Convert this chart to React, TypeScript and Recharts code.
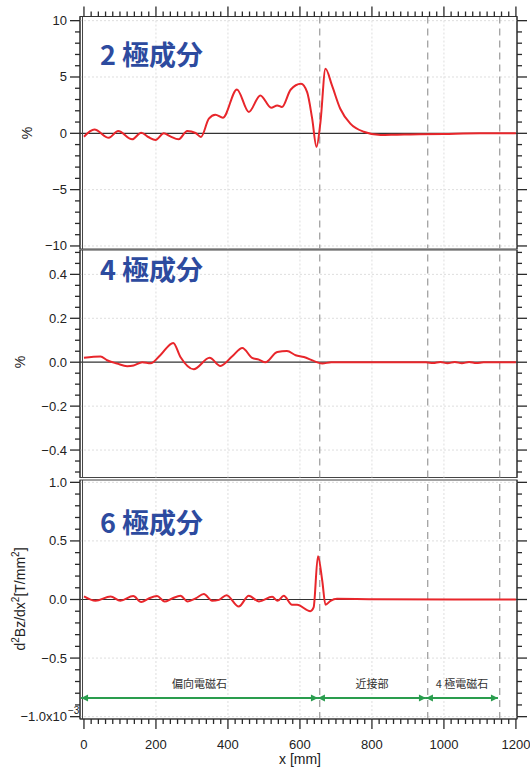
import React from 'react';
import { LineChart, Line, XAxis, YAxis, ReferenceLine, ReferenceArea } from 'recharts';

const FONT = "'Liberation Sans', Arial, sans-serif";
const CJK = "'Noto Sans CJK JP', sans-serif";

const X_DOMAIN: [number, number] = [-11, 1203];
const xMajor = [0, 200, 400, 600, 800, 1000, 1200];
const xLabels = ['0', '200', '400', '600', '800', '1000', '1200'];
const xGrid = [200, 400, 600, 800, 1000];
const boundaries = [655, 955, 1155];

// 2 極成分 [%]
const q2X = [0, 29, 69, 95, 134, 159, 180, 199, 222, 240, 263, 287, 310, 325, 347, 365, 386, 425, 458, 490, 520, 537, 550, 574, 603, 620, 634, 646, 657, 671, 689, 712, 740, 777, 824, 870, 907, 1000, 1100, 1200];
const q2Y = [-0.3, 0.33, -0.4, 0.2, -0.53, 0.06, -0.35, -0.59, 0.0, -0.27, -0.53, 0.2, 0.03, -0.33, 1.3, 1.65, 1.39, 3.9, 1.9, 3.36, 2.27, 2.48, 2.33, 3.87, 4.4, 3.65, 1.3, -1.2, 1.0, 5.73, 4.25, 2.18, 0.86, 0.14, -0.15, -0.12, -0.1, -0.05, 0, 0];

// 4 極成分 [%]
const q4X = [0, 46, 64, 92, 120, 138, 162, 185, 212, 248, 268, 305, 349, 379, 412, 440, 467, 486, 504, 537, 564, 588, 611, 638, 662, 687, 950, 970, 990, 1010, 1030, 1050, 1070, 1090, 1110, 1200];
const q4Y = [0.02, 0.026, 0.009, -0.006, -0.018, -0.015, 0, -0.005, 0.032, 0.088, 0.024, -0.032, 0.02, -0.017, 0.027, 0.065, 0.02, 0.012, 0, 0.047, 0.051, 0.032, 0.024, 0.006, -0.006, 0, 0, -0.004, 0.001, -0.005, 0.001, -0.005, 0.001, -0.004, 0, 0];

// 6 極成分 [x10^-3 T/mm^2]
const q6X = [0, 32, 74, 101, 137, 159, 180, 203, 224, 245, 268, 288, 310, 333, 356, 375, 396, 430, 458, 486, 523, 538, 555, 578, 592, 629, 638, 650, 662, 671, 685, 703, 800, 1200];
const q6Y = [0.026, -0.011, 0.026, -0.011, 0.029, -0.022, 0.009, 0.029, -0.017, 0.009, 0.032, -0.017, 0.009, 0.046, -0.011, -0.003, 0.037, -0.06, 0.032, -0.017, 0.023, -0.011, 0.032, -0.045, -0.045, -0.1, -0.068, 0.37, 0.16, -0.045, -0.011, 0.006, 0.003, 0];

// magnet sections
const secFrom = [-8, 650, 950];
const secTo = [650, 950, 1150];
const secLabels = ['偏向電磁石', '近接部', '4 極電磁石'];
const SEC_Y = -0.84;

const p1Major = [-10, -5, 0, 5, 10];
const p1Labels = ['−10', '−5', '0', '5', '10'];
const p2Major = [-0.4, -0.2, 0, 0.2, 0.4];
const p2Labels = ['−0.4', '−0.2', '0.0', '0.2', '0.4'];
const p3Major = [-1, -0.5, 0, 0.5, 1];
const p3Labels = ['−1.0x10', '−0.5', '0.0', '0.5', '1.0'];
const p3Exp = ['−3', '', '', '', ''];

const range = (a: number, b: number, step: number) => {
  const out: number[] = [];
  const n = Math.round((b - a) / step);
  for (let i = 0; i <= n; i++) out.push(+(a + i * step).toFixed(4));
  return out;
};

const xMinor = range(0, 1200, 20);
const idx = (v: number, majors: number[]) => majors.findIndex((m) => Math.abs(m - v) < 1e-6);

const TICK = '#2a2a2a';
const TW = 1.3;

const LeftTick = ({ x, y, payload, majors, labels, exps }: any) => {
  const i = idx(payload.value, majors);
  const len = i >= 0 ? 10 : 5;
  return (
    <g>
      <line x1={x - len} x2={x} y1={y} y2={y} stroke={TICK} strokeWidth={TW} />
      {i >= 0 && (
        <text x={x - 13} y={y} dy={4.5} textAnchor="end" fontSize={13} fill="#222" fontFamily={FONT}>
          {labels[i]}
        </text>
      )}
      {i >= 0 && exps && exps[i] && (
        <text x={x - 12} y={y - 3} textAnchor="start" fontSize={10} fill="#222" fontFamily={FONT}>
          {exps[i]}
        </text>
      )}
    </g>
  );
};

const RightTick = ({ x, y, payload, majors }: any) => {
  const len = idx(payload.value, majors) >= 0 ? 10 : 5;
  return <line x1={Number(x)} x2={Number(x) + len} y1={y} y2={y} stroke={TICK} strokeWidth={TW} />;
};

const TopTick = ({ x, y, payload }: any) => {
  const len = idx(payload.value, xMajor) >= 0 ? 10 : 5;
  return <line x1={x} x2={x} y1={y - len} y2={y} stroke={TICK} strokeWidth={TW} />;
};

const BottomTick = ({ x, y, payload }: any) => {
  const i = idx(payload.value, xMajor);
  const len = i >= 0 ? 10 : 5;
  return (
    <g>
      <line x1={x} x2={x} y1={Number(y)} y2={Number(y) + len} stroke={TICK} strokeWidth={TW} />
      {i >= 0 && (
        <text x={x} y={Number(y) + 29.5} textAnchor="middle" fontSize={13} fill="#222" fontFamily={FONT}>
          {xLabels[i]}
        </text>
      )}
    </g>
  );
};

const SectionArrow = (label: string) => (props: any) => {
  const { x1, y1, x2, y2 } = props;
  const c = '#2a9d4e';
  return (
    <g>
      <line x1={x1} y1={y1} x2={x2} y2={y2} stroke={c} strokeWidth={2} />
      <polygon points={`${x1},${y1} ${x1 + 7},${y1 - 3.5} ${x1 + 7},${y1 + 3.5}`} fill={c} />
      <polygon points={`${x2},${y2} ${x2 - 7},${y2 - 3.5} ${x2 - 7},${y2 + 3.5}`} fill={c} />
      <text x={(x1 + x2) / 2} y={y1 - 10} textAnchor="middle" fontSize={11} fill="#333" fontFamily={CJK}>
        {label}
      </text>
    </g>
  );
};

type PanelProps = {
  top: number;
  height: number;
  margin: { top: number; bottom: number };
  xs: number[];
  ys: number[];
  yDomain: [number, number];
  yTicks: number[];
  yMajor: number[];
  yLabels: string[];
  yExp?: string[];
  xAxis: 'top' | 'bottom' | 'none';
  xAxisHeight?: number;
  sections?: boolean;
};

function Panel(p: PanelProps) {
  const data = p.xs.map((x, i) => ({ x, y: p.ys[i] }));
  const gridY = p.yMajor.filter((v) => v !== 0);
  return (
    <div style={{ position: 'absolute', left: 0, top: p.top }}>
      <LineChart width={530} height={p.height} data={data} margin={{ top: p.margin.top, bottom: p.margin.bottom, left: 0, right: 0 }}>
        <XAxis
          dataKey="x"
          type="number"
          domain={X_DOMAIN}
          allowDataOverflow
          hide={p.xAxis === 'none'}
          orientation={p.xAxis === 'top' ? 'top' : 'bottom'}
          height={p.xAxisHeight ?? 0}
          ticks={xMinor}
          interval={0}
          tickSize={0}
          tickMargin={0}
          tickLine={false}
          axisLine={{ stroke: '#333' }}
          tick={p.xAxis === 'top' ? (t: any) => <TopTick {...t} /> : (t: any) => <BottomTick {...t} />}
        />
        <YAxis
          yAxisId="l"
          type="number"
          domain={p.yDomain}
          allowDataOverflow
          width={80}
          ticks={p.yTicks}
          interval={0}
          tickSize={0}
          tickMargin={0}
          tickLine={false}
          axisLine={{ stroke: '#333' }}
          tick={(t: any) => <LeftTick {...t} majors={p.yMajor} labels={p.yLabels} exps={p.yExp} />}
        />
        <YAxis
          yAxisId="r"
          orientation="right"
          type="number"
          domain={p.yDomain}
          allowDataOverflow
          width={13}
          ticks={p.yTicks}
          interval={0}
          tickSize={0}
          tickMargin={0}
          tickLine={false}
          axisLine={{ stroke: '#333' }}
          tick={(t: any) => <RightTick {...t} majors={p.yMajor} />}
        />
        {xGrid.map((g) => (
          <ReferenceLine key={'gx' + g} yAxisId="l" x={g} stroke="#dedede" strokeDasharray="2 2" />
        ))}
        {gridY.map((g) => (
          <ReferenceLine key={'gy' + g} yAxisId="l" y={g} stroke="#dedede" strokeDasharray="2 2" />
        ))}
        <ReferenceLine yAxisId="l" y={0} stroke="#333" strokeWidth={1.2} />
        {boundaries.map((b) => (
          <ReferenceLine key={'b' + b} yAxisId="l" x={b} stroke="#9a9a9a" strokeWidth={1.2} strokeDasharray="7 5" />
        ))}
        <ReferenceLine yAxisId="l" x={-4} stroke="#444" />
        {p.sections &&
          secFrom.map((f, i) => (
            <ReferenceLine
              key={'s' + i}
              yAxisId="l"
              segment={[
                { x: f, y: SEC_Y },
                { x: secTo[i], y: SEC_Y },
              ]}
              shape={SectionArrow(secLabels[i])}
            />
          ))}
        <ReferenceArea
          yAxisId="l"
          x1={X_DOMAIN[0]}
          x2={X_DOMAIN[1]}
          y1={p.yDomain[0]}
          y2={p.yDomain[1]}
          fill="none"
          stroke="#444"
          strokeWidth={1.2}
        />
        {/* invisible twin so the right-hand axis gets its ticks */}
        <Line yAxisId="r" type="monotone" dataKey="y" stroke="none" dot={false} activeDot={false} isAnimationActive={false} />
        <Line
          yAxisId="l"
          type="monotone"
          dataKey="y"
          stroke="#e8262b"
          strokeWidth={2}
          dot={false}
          isAnimationActive={false}
        />
      </LineChart>
    </div>
  );
}

const Title = ({ text, top }: { text: string; top: number }) => (
  <div style={{ position: 'absolute', left: 100, top, fontFamily: CJK, fontWeight: 700, fontSize: 27, lineHeight: '1', color: '#2d4b9f', whiteSpace: 'nowrap' }}>
    {text}
  </div>
);

const VLabel = ({ cx, cy, children }: { cx: number; cy: number; children: React.ReactNode }) => (
  <div
    style={{
      position: 'absolute',
      left: cx,
      top: cy,
      transform: 'translate(-50%, -50%) rotate(-90deg)',
      fontFamily: FONT,
      fontSize: 14,
      color: '#222',
      whiteSpace: 'nowrap',
      lineHeight: '1',
    }}
  >
    {children}
  </div>
);

export default function App() {
  return (
    <div style={{ position: 'absolute', left: 0, top: 0, width: 530, height: 768, background: '#fff' }}>
      <Panel
        top={0}
        height={260}
        margin={{ top: 0, bottom: 11 }}
        xs={q2X}
        ys={q2Y}
        yDomain={[-10.27, 10.37]}
        yTicks={range(-10, 10, 1)}
        yMajor={p1Major}
        yLabels={p1Labels}
        xAxis="top"
        xAxisHeight={16.5}
      />
      <Panel
        top={249}
        height={240}
        margin={{ top: 1, bottom: 11.5 }}
        xs={q4X}
        ys={q4Y}
        yDomain={[-0.525, 0.511]}
        yTicks={range(-0.5, 0.5, 0.05)}
        yMajor={p2Major}
        yLabels={p2Labels}
        xAxis="none"
      />
      <Panel
        top={470}
        height={298}
        margin={{ top: 10, bottom: 0 }}
        xs={q6X}
        ys={q6Y}
        yDomain={[-1.02, 1.02]}
        yTicks={range(-1, 1, 0.1)}
        yMajor={p3Major}
        yLabels={p3Labels}
        yExp={p3Exp}
        xAxis="bottom"
        xAxisHeight={49}
        sections
      />
      <Title text="2 極成分" top={40} />
      <Title text="4 極成分" top={255} />
      <Title text="6 極成分" top={508} />
      <VLabel cx={27} cy={133}>%</VLabel>
      <VLabel cx={20} cy={362}>%</VLabel>
      <VLabel cx={19} cy={599}>
        d<sup style={{ fontSize: 10 }}>2</sup>Bz/dx<sup style={{ fontSize: 10 }}>2</sup>[T/mm<sup style={{ fontSize: 10 }}>2</sup>]
      </VLabel>
      <div style={{ position: 'absolute', left: 300, top: 752, transform: 'translateX(-50%)', fontFamily: FONT, fontSize: 14, color: '#222', whiteSpace: 'nowrap', lineHeight: '1' }}>
        x [mm]
      </div>
    </div>
  );
}
